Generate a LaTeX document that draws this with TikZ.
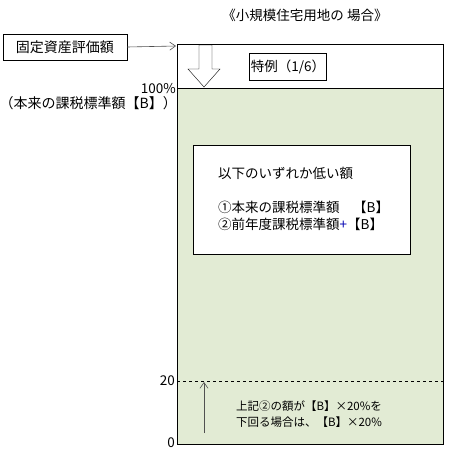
\documentclass[tikz,border=0pt]{standalone}
\usepackage{fontspec}
\setmainfont{Noto Sans CJK JP}
\usepackage{xcolor}
\usetikzlibrary{arrows.meta}
\definecolor{landgreen}{RGB}{226,235,212}
\definecolor{arrowgray}{RGB}{80,80,80}

\begin{document}
\begin{tikzpicture}[x=1pt, y=-1pt, font=\fontsize{13.5}{15}\selectfont,
  c/.style={draw, inner sep=0pt, align=center},
  barb/.style={draw=arrowgray, line width=0.6pt, -{Straight Barb[angle=70:7pt]}}]
\useasboundingbox (0,0) rectangle (450,461);
\node (title) at (305,15) {《小規模住宅用地の 場合》};
\node[c, minimum width=124pt, minimum height=26pt, font=\fontsize{14}{15}\selectfont] (eval) at (65,47) {固定資産評価額};
% land area: white top part, green below 100%
\node[draw, minimum width=266pt, minimum height=400pt, inner sep=0pt] (land) at (310,244) {};
\fill[landgreen] (177.5,88) rectangle (442.5,443.5);
\draw (177,88) -- (443,88);
\draw[dashed] (177,381) -- (443,381);
\coordinate (evaltip) at (176,46);
\draw[barb] (eval.east) -- (evaltip);
\draw[fill=white] (199,45) -- (212,45) -- (212,69) -- (220,69) -- (204,87) -- (188,69) -- (199,69) -- cycle;
\node[c, fill=white, minimum width=77pt, minimum height=27pt] (special) at (288,67) {特例（1/6）};
\node[anchor=east, inner sep=0pt] (full) at (176,89) {100\%};
\node[anchor=east, inner sep=0pt, font=\fontsize{14}{15}\selectfont] (base) at (177,103) {（本来の課税標準額【B】）};
\node[c, fill=white, minimum width=217pt, minimum height=109pt] (lower) at (301.5,199.5) {};
\node[anchor=north west, inner sep=0pt, align=left, font=\fontsize{13.5}{17}\selectfont] (rule) at (218,167)
  {以下のいずれか低い額\\[17pt]①本来の課税標準額　【B】\\②前年度課税標準額\textcolor{blue!70!black}{+}【B】};
\node[anchor=east, inner sep=1pt] (twenty) at (176,381) {20};
\node[anchor=east, inner sep=1pt] (zero) at (176,443) {0};
\coordinate (low) at (204,433);
\coordinate (floor) at (204,382);
\draw[barb] (low) -- (floor);
\node[align=center, font=\fontsize{11.5}{16}\selectfont] (note) at (309,414)
  {上記②の額が【B】×20\%を\\下回る場合は、【B】×20\%};
\end{tikzpicture}
\end{document}
